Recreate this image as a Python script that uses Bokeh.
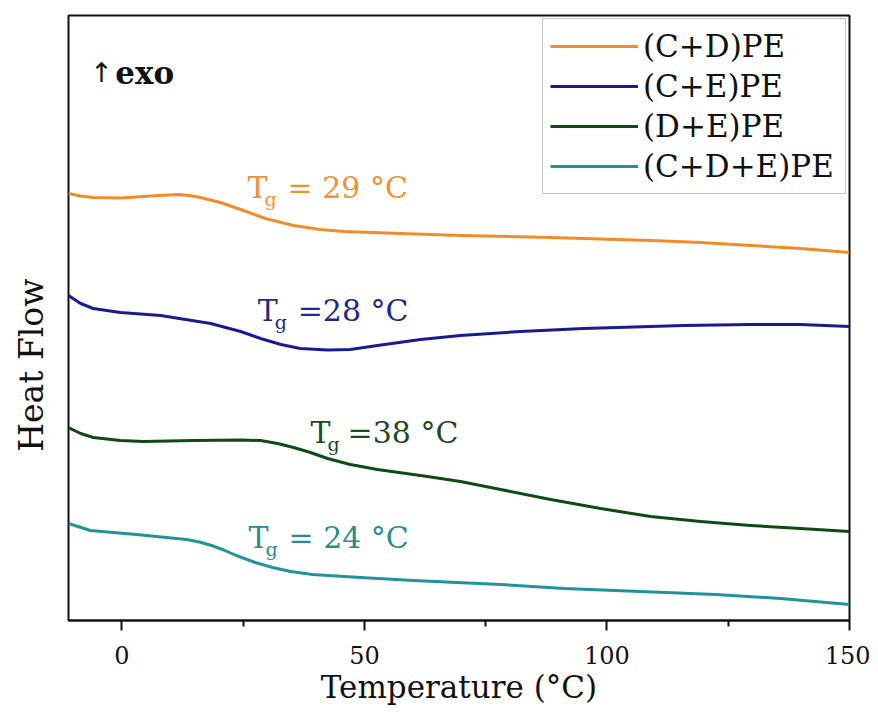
from bokeh.plotting import figure
from bokeh.models import Range1d, Label, Legend, LegendItem, FixedTicker
from bokeh.embed import file_html
from bokeh.resources import INLINE

# ---- data (y is arbitrary heat-flow units) ----
cd_x = [-11, -8.5, -5.9, -0.3, 5.9, 11.5, 14.0, 16.2, 20.3, 25.1, 29.6, 35.4, 40.9, 45.7, 57.4, 69.8, 88.4, 109.0, 119.3, 129.6, 139.9, 150]
cd_y = [427, 424.5, 423, 422.5, 424.5, 426, 425, 423, 418, 410, 402, 395, 391, 389, 387, 385, 383, 380, 378, 375, 372, 368]

ce_x = [-11, -8.5, -5.9, -0.3, 8.0, 18.3, 24.5, 28.6, 32.8, 36.8, 42.4, 47.1, 52.7, 61.6, 69.8, 82.2, 95.2, 115.8, 129.6, 139.9, 150]
ce_y = [325, 317, 312, 308, 305, 297, 289, 282, 276, 272, 270.5, 271, 275, 281, 285, 289, 292, 295, 296, 296, 294]

de_x = [-11, -8.5, -5.9, -0.3, 4.5, 14.8, 24.5, 28.6, 32.1, 35.4, 38.9, 42.4, 47.1, 52.7, 63.0, 69.8, 78.1, 88.4, 98.7, 109.0, 119.3, 129.6, 139.9, 150]
de_y = [193, 187, 183, 180, 179, 180, 180.5, 180, 177, 173, 168, 162, 156, 151, 144, 139, 131, 121, 112, 104, 99, 95, 92, 89]

cde_x = [-11, -6.5, 3.0, 13.3, 16.0, 18.5, 21.0, 23.6, 27.5, 31.1, 34.8, 39.3, 49.2, 60.1, 78.1, 91.2, 106.9, 122.4, 135.8, 150]
cde_y = [97, 90, 86, 81, 78.5, 75, 70.5, 65, 58, 53, 49, 46, 43, 40, 36, 32, 29, 26, 22, 16]

series_names = ["(C+D)PE", "(C+E)PE", "(D+E)PE", "(C+D+E)PE"]
tg_values = ["= 29 °C", "=28 °C", "=38 °C", "= 24 °C"]
x_ticks = [0, 50, 100, 150]
x_minor = [25, 75, 125]

colors = ["#F28C28", "#1B1B8F", "#0F4A14", "#21939A"]
text_colors = ["#F0922E", "#25258F", "#1E4A1E", "#2A8C8E"]
SERIF = "DejaVu Serif"

p = figure(width=870, height=716, x_range=Range1d(-11, 150), y_range=Range1d(0, 605),
           output_backend="svg", toolbar_location=None,
           min_border_left=68, min_border_right=21, min_border_top=15, min_border_bottom=96)
p.background_fill_color = "white"
p.border_fill_color = "white"
p.outline_line_color = "#111111"
p.outline_line_width = 2
p.xgrid.visible = False
p.ygrid.visible = False

ay = p.yaxis[0]
ay.ticker = FixedTicker(ticks=[])
ay.axis_line_color = None
ay.major_tick_line_color = None
ay.minor_tick_line_color = None
ay.axis_label = "Heat Flow" + "\u00a0" * 9
ay.axis_label_text_font = SERIF
ay.axis_label_text_font_size = "33px"
ay.axis_label_text_font_style = "normal"
ay.axis_label_text_color = "#111111"
ay.axis_label_standoff = 18

ax = p.xaxis[0]
ax.ticker = FixedTicker(ticks=x_ticks, minor_ticks=x_minor)
ax.axis_line_color = "#111111"
ax.axis_line_width = 2
ax.major_tick_out = 10
ax.major_tick_in = 0
ax.minor_tick_out = 6
ax.minor_tick_in = 0
ax.major_tick_line_width = 2
ax.minor_tick_line_width = 2
ax.major_tick_line_color = "#111111"
ax.minor_tick_line_color = "#111111"
ax.major_label_text_font = SERIF
ax.major_label_text_font_size = "24px"
ax.major_label_text_color = "#111111"
ax.major_label_standoff = 15
ax.axis_label = "Temperature (°C)"
ax.axis_label_text_font = SERIF
ax.axis_label_text_font_size = "31px"
ax.axis_label_text_font_style = "normal"
ax.axis_label_text_color = "#111111"
ax.axis_label_standoff = 2

xs = [cd_x, ce_x, de_x, cde_x]
ys = [cd_y, ce_y, de_y, cde_y]
renderers = []
for x, y, c in zip(xs, ys, colors):
    renderers.append(p.line(x, y, line_color=c, line_width=3, line_join="round"))

legend = Legend(items=[LegendItem(label=n, renderers=[r]) for n, r in zip(series_names, renderers)],
                location="top_right")
legend.label_text_font = SERIF
legend.label_text_font_size = "31px"
legend.label_text_color = "#111111"
legend.glyph_width = 88
legend.glyph_height = 40
legend.label_height = 40
legend.label_width = 195
legend.label_standoff = 5
legend.padding = 7
legend.spacing = 0
legend.margin = 3
legend.border_line_color = "#888888"
legend.border_line_width = 1.5
legend.background_fill_alpha = 1
p.add_layout(legend)

# Tg annotations
tg_pos = [(25.9, 433, 40), (28.0, 310, 40), (38.9, 188, 37), (26.1, 83, 40)]
for (lx, ly, off), txt, tc in zip(tg_pos, tg_values, text_colors):
    p.add_layout(Label(x=lx, y=ly, text="T", text_font=SERIF, text_font_size="30px",
                       text_color=tc, text_baseline="alphabetic"))
    p.add_layout(Label(x=lx, y=ly, x_offset=17, y_offset=-11, text="g", text_font=SERIF,
                       text_font_size="19px", text_color=tc, text_baseline="alphabetic"))
    p.add_layout(Label(x=lx, y=ly, x_offset=off, text=txt, text_font=SERIF, text_font_size="30px",
                       text_color=tc, text_baseline="alphabetic"))

# exo marker
p.add_layout(Label(x=-6.5, y=548, text="↑", text_font="DejaVu Sans", text_font_size="27px",
                   text_color="#111111", text_baseline="alphabetic"))
p.add_layout(Label(x=-6.5, y=548, x_offset=25, text="exo", text_font=SERIF, text_font_size="31px",
                   text_font_style="bold", text_color="#111111", text_baseline="alphabetic"))

open("out.html", "w").write(file_html(p, INLINE))
